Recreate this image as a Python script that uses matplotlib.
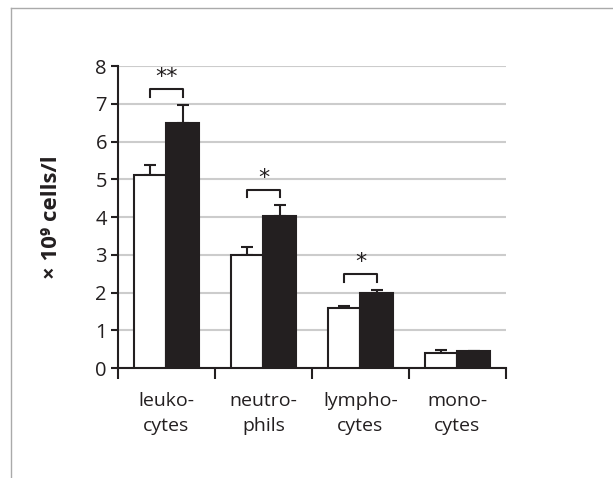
import matplotlib
matplotlib.use('Agg')
import matplotlib.pyplot as plt
import numpy as np
from matplotlib.lines import Line2D

plt.rcParams['font.family'] = ['Open Sans', 'DejaVu Sans']

# data
kategoriler = ['leuko-\ncytes', 'neutro-\nphils', 'lympho-\ncytes', 'mono-\ncytes']
beyaz = [5.1, 3.0, 1.6, 0.4]
beyaz_hata = [0.28, 0.2, 0.05, 0.08]
siyah = [6.5, 4.02, 2.0, 0.45]
siyah_hata = [0.47, 0.3, 0.07, 0.0]
anlam_y = [7.38, 4.72, 2.49]
anlam_yildiz = ['**', '*', '*']

koyu = '#231f20'
x = np.arange(len(kategoriler))
w = 0.336

fig = plt.figure(figsize=(6.13, 4.78), dpi=100)
ax = fig.add_axes([0.1925, 0.2301, 0.8254 - 0.1925, 0.8619 - 0.2301])

ax.bar(x - w / 2, beyaz, w, color='white', edgecolor=koyu, linewidth=1.5, zorder=3)
ax.bar(x + w / 2, siyah, w, color=koyu, edgecolor=koyu, linewidth=1.5, zorder=3)
ax.errorbar(x - w / 2, beyaz, yerr=[np.zeros(4), beyaz_hata], fmt='none',
            ecolor=koyu, elinewidth=1.5, capsize=4.5, capthick=1.5, zorder=2)
ax.errorbar(x + w / 2, siyah, yerr=[np.zeros(4), siyah_hata], fmt='none',
            ecolor=koyu, elinewidth=1.5, capsize=4.5, capthick=1.5, zorder=2)

# anlamlilik parantezleri
for i, (yy, s) in enumerate(zip(anlam_y, anlam_yildiz)):
    x1, x2 = x[i] - w / 2, x[i] + w / 2
    ax.plot([x1, x1, x2, x2], [yy - 0.2, yy, yy, yy - 0.2], color=koyu, lw=1.5, zorder=4)
    ax.text(x[i], yy + 0.06, s, ha='center', va='bottom', fontsize=16,
            color=koyu, family=['DejaVu Sans'])

ax.set_xlim(-0.5, 3.5)
ax.set_ylim(0, 8)
ax.set_yticks(range(0, 9))
ax.tick_params(axis='y', direction='out', length=5, width=1.5, color=koyu,
               labelsize=14.5, labelcolor=koyu, pad=3)
ax.yaxis.grid(True, color='#cccccc', lw=1.5, zorder=0)
ax.set_axisbelow(True)

ax.set_xticks(np.arange(-0.5, 3.6, 1.0))
ax.set_xticklabels([])
ax.tick_params(axis='x', which='major', direction='out', length=8, width=1.5, color=koyu)
ax.set_xticks(x, minor=True)
ax.set_xticklabels(kategoriler, minor=True, fontsize=14, color=koyu, linespacing=1.55)
ax.tick_params(axis='x', which='minor', length=0, pad=17)

for k in ['top', 'right']:
    ax.spines[k].set_visible(False)
for k in ['left', 'bottom']:
    ax.spines[k].set_linewidth(1.5)
    ax.spines[k].set_color(koyu)

ax.set_ylabel('× 10⁹ cells/l', fontsize=16, fontweight='bold', color=koyu)
ax.yaxis.set_label_coords(-0.145, 0.5)

# cerceve
fig.add_artist(Line2D([11 / 613, 11 / 613], [0, 1 - 8 / 478], color='#aaaaaa', lw=1))
fig.add_artist(Line2D([11 / 613, 1], [1 - 8 / 478, 1 - 8 / 478], color='#aaaaaa', lw=1))

fig.savefig('out.png', dpi=100)
